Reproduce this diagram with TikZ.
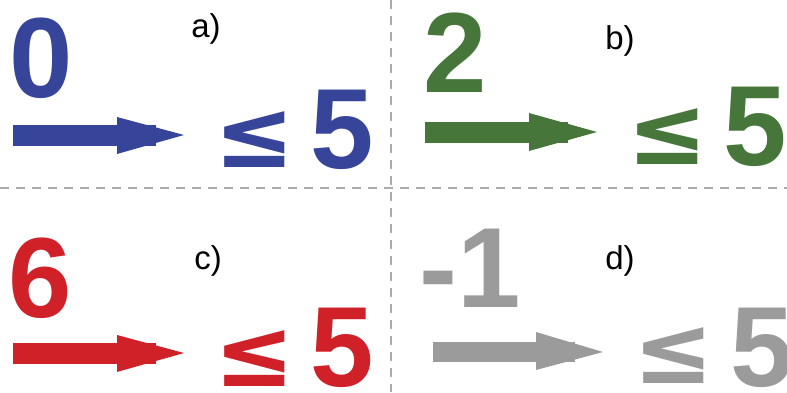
\documentclass[tikz,border=0pt]{standalone}
\usepackage{fontspec}
\setmainfont{Liberation Sans}
\newfontfamily\relfont{DejaVu Sans}
\definecolor{cblue}{HTML}{36449A}
\definecolor{cgreen}{HTML}{46763A}
\definecolor{cred}{HTML}{D02129}
\definecolor{cgray}{HTML}{9B9B9B}
\definecolor{cdash}{HTML}{ABABAB}
\begin{document}
\begin{tikzpicture}[x=1pt,y=1pt,
  big/.style={inner sep=0pt,anchor=base,font=\fontsize{114}{114}\selectfont\bfseries},
  rel/.style={inner sep=0pt,anchor=base,font=\relfont\fontsize{96}{96}\selectfont\bfseries},
  lbl/.style={inner sep=0pt,anchor=base,font=\fontsize{33}{33}\selectfont},
  sep/.style={draw=cdash,line width=2pt,dash pattern=on 9pt off 7pt}]
\useasboundingbox (0,0) rectangle (787,392);
% separators
\coordinate (hl) at (0,204); \coordinate (hr) at (787,204);
\coordinate (vt) at (391,392); \coordinate (vb) at (391,0);
\draw[sep] (hl) -- (hr);
\draw[sep] (vt) -- (vb);
% panel a
\node[big,text=cblue] (a0) at (41,295) {0};
\node[rel,text=cblue] (ale) at (255,225) {≤};
\node[big,text=cblue] (a5) at (342.5,224) {5};
\node[lbl] (la) at (206,355) {a)};
\fill[cblue] (13,246) rectangle (156,267);
\fill[cblue] (117,275) -- (184,257) -- (117,238) -- cycle;
% panel b
\node[big,text=cgreen] (b2) at (455.5,300) {2};
\node[rel,text=cgreen] (ble) at (667.5,228) {≤};
\node[big,text=cgreen] (b5) at (755,227) {5};
\node[lbl] (lb) at (620,343) {b)};
\fill[cgreen] (425,249) rectangle (568,270);
\fill[cgreen] (529,279) -- (597,260) -- (529,241) -- cycle;
% panel c
\node[big,text=cred] (c6) at (40,75) {6};
\node[rel,text=cred] (cle) at (255,6) {≤};
\node[big,text=cred] (c5) at (342.5,6) {5};
\node[lbl] (lc) at (208,123) {c)};
\fill[cred] (13,28) rectangle (156,49);
\fill[cred] (117,57) -- (184,39) -- (117,20) -- cycle;
% panel d
\node[big,text=cgray] (dm1) at (470,85) {-1};
\node[rel,text=cgray] (dle) at (674,9) {≤};
\node[big,text=cgray] (d5) at (762,6) {5};
\node[lbl] (ld) at (620,123) {d)};
\fill[cgray] (433,30) rectangle (575,50);
\fill[cgray] (536,60) -- (603,40) -- (536,22) -- cycle;
\end{tikzpicture}
\end{document}
